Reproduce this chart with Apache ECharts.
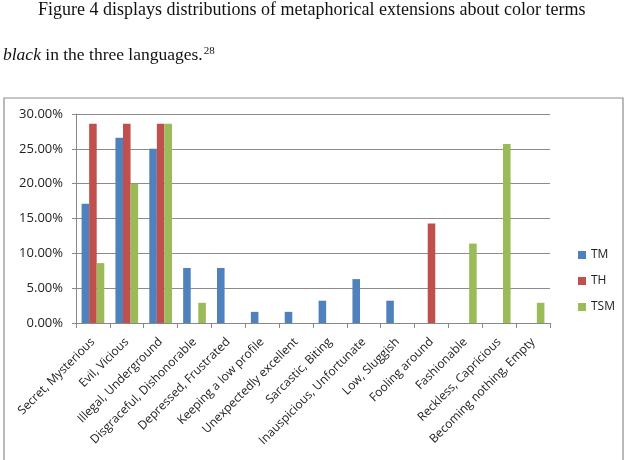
<!DOCTYPE html>
<html>
<head>
<meta charset="UTF-8">
<script src="https://cdn.jsdelivr.net/npm/echarts@6/dist/echarts.min.js"></script>
<style>
  html, body { margin: 0; padding: 0; background: #fff; }
  #chart { width: 627px; height: 460px; }
</style>
</head>
<body>
<div id="chart"></div>
<script>
// categories and shares (%)
const categories = [
  'Secret, Mysterious', 'Evil, Vicious', 'Illegal, Underground', 'Disgraceful, Dishonorable',
  'Depressed, Frustrated', 'Keeping a low profile', 'Unexpectedly excellent', 'Sarcastic, Biting',
  'Inauspicious, Unfortunate', 'Low, Sluggish', 'Fooling around', 'Fashionable',
  'Reckless, Capricious', 'Becoming nothing, Empty'
]
const tmValues = [17.1, 26.6, 25.0, 7.9, 7.9, 1.6, 1.6, 3.2, 6.3, 3.2, 0, 0, 0, 0]
const thValues = [28.6, 28.6, 28.6, 0, 0, 0, 0, 0, 0, 0, 14.3, 0, 0, 0]
const tsmValues = [8.6, 20.0, 28.6, 2.9, 0, 0, 0, 0, 0, 0, 0, 11.4, 25.7, 2.9]

const chart = echarts.init(document.getElementById('chart'))

function bar(name, data, color) {
  return {
    name: name,
    type: 'bar',
    data: data.map(v => v === 0 ? null : v),
    barGap: '0%',
    barCategoryGap: '33%',
    itemStyle: { color: color }
  }
}

chart.setOption({
  animation: false,
  textStyle: { fontFamily: 'Open Sans' },
  graphic: [
    {
      type: 'text', left: 38, top: 1,
      style: { text: 'Figure 4 displays distributions of metaphorical extensions about color terms',
        font: '18px "Liberation Serif"', fill: '#111' }
    },
    {
      type: 'text', left: 3, top: 46,
      style: { text: '{i|black} in the three languages.{s|28}',
        font: '17.5px "Liberation Serif"', fill: '#111',
        rich: {
          i: { font: 'italic 17.5px "Liberation Serif"', fill: '#111' },
          s: { font: '11px "Liberation Serif"', fill: '#111', verticalAlign: 'top', padding: [0, 0, 8, 1] }
        } }
    },
    {
      type: 'rect', shape: { x: 4, y: 98, width: 619, height: 380 },
      style: { fill: 'none', stroke: '#8c8c8c', lineWidth: 1.2 }, z: -1
    }
  ],
  legend: {
    orient: 'vertical',
    left: 573, top: 244,
    itemWidth: 8, itemHeight: 8, itemGap: 14,
    icon: 'rect',
    textStyle: { fontSize: 12, color: '#222', fontFamily: 'Open Sans' },
    data: ['TM', 'TH', 'TSM']
  },
  grid: { left: 76, right: 77, top: 114, bottom: 137, containLabel: false },
  xAxis: {
    type: 'category',
    data: categories,
    axisLine: { lineStyle: { color: '#888' } },
    axisTick: { show: true, length: 5, lineStyle: { color: '#888' } },
    axisLabel: { rotate: 45, interval: 0, fontSize: 12, color: '#222', margin: 17 }
  },
  yAxis: {
    type: 'value',
    min: 0, max: 30, interval: 5,
    axisLine: { show: true, lineStyle: { color: '#888' } },
    axisTick: { show: true, length: 4, lineStyle: { color: '#888' } },
    splitLine: { lineStyle: { color: '#8c8c8c' } },
    axisLabel: {
      fontSize: 13, color: '#222', margin: 13,
      formatter: v => v.toFixed(2) + '%'
    }
  },
  series: [
    bar('TM', tmValues, '#4F81BD'),
    bar('TH', thValues, '#C0504D'),
    bar('TSM', tsmValues, '#9BBB59')
  ]
})
</script>
</body>
</html>
